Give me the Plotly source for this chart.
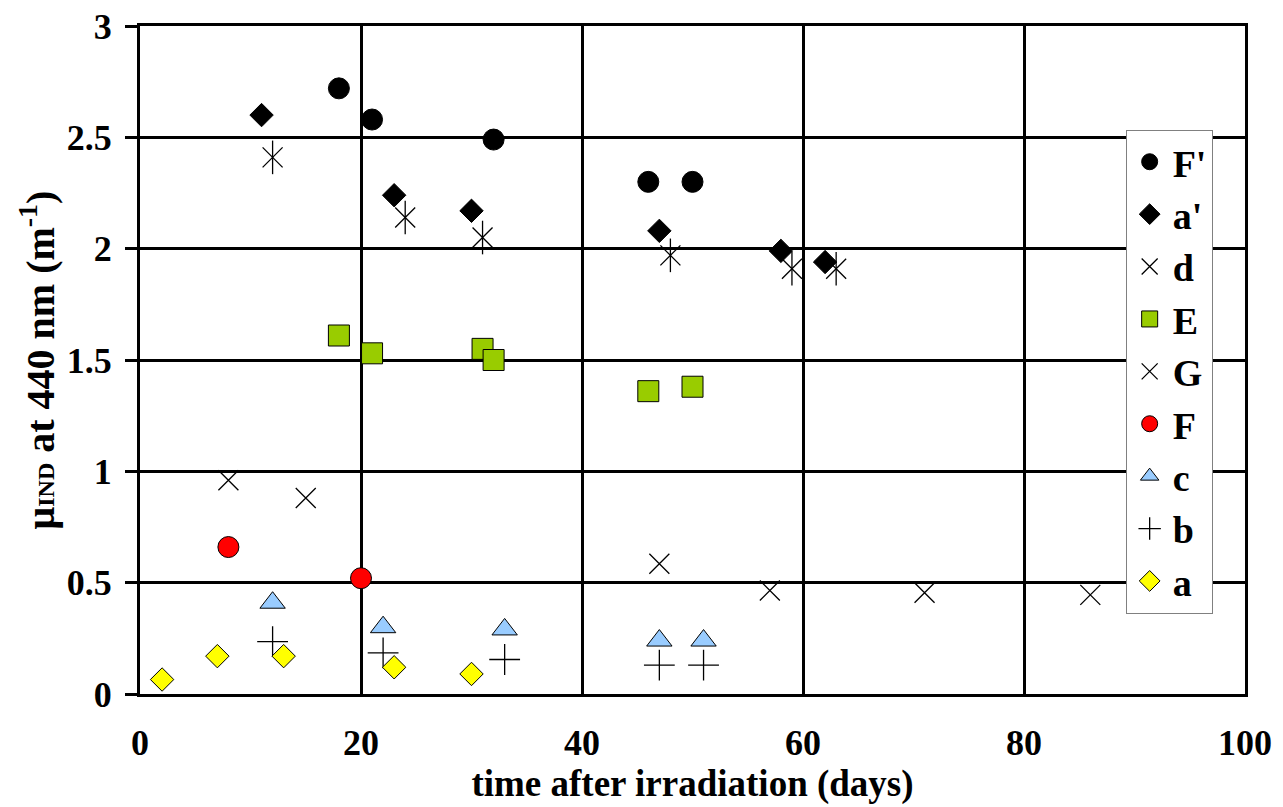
import plotly.graph_objects as go

# ---- data (days after irradiation, mu_IND at 440 nm) ----
Fp_x = [18, 21, 32, 46, 50]
Fp_y = [2.72, 2.58, 2.49, 2.30, 2.30]
ap_x = [11, 23, 30, 47, 58, 62]
ap_y = [2.60, 2.24, 2.17, 2.08, 1.99, 1.94]
d_x = [12, 24, 31, 48, 59, 63]
d_y = [2.41, 2.14, 2.05, 1.97, 1.91, 1.91]
E_x = [18, 21, 31, 32, 46, 50]
E_y = [1.61, 1.53, 1.55, 1.50, 1.36, 1.38]
G_x = [8, 15, 47, 57, 71, 86]
G_y = [0.96, 0.88, 0.585, 0.465, 0.455, 0.445]
F_x = [8, 20]
F_y = [0.66, 0.52]
c_x = [12, 22, 33, 47, 51]
c_y = [0.41, 0.30, 0.29, 0.24, 0.24]
b_x = [12, 22, 33, 47, 51]
b_y = [0.235, 0.185, 0.155, 0.13, 0.13]
a_x = [2, 7, 13, 23, 30]
a_y = [0.065, 0.17, 0.17, 0.12, 0.09]

series = [
    ("F'", Fp_x, Fp_y, dict(symbol="circle", size=21, color="black", line=dict(color="black", width=1))),
    ("a'", ap_x, ap_y, dict(symbol="diamond", size=18, color="black", line=dict(color="black", width=1))),
    ("d", d_x, d_y, dict(symbol="x-thin-open", size=20, color="black", line=dict(color="black", width=1.3))),
    ("E", E_x, E_y, dict(symbol="square", size=21, color="#99CC00", line=dict(color="black", width=1))),
    ("G", G_x, G_y, dict(symbol="x-thin-open", size=20, color="black", line=dict(color="black", width=1.3))),
    ("F", F_x, F_y, dict(symbol="circle", size=21, color="#FF0000", line=dict(color="black", width=1))),
    ("c", c_x, c_y, dict(symbol="triangle-up", size=22, color="#99CCFF", line=dict(color="black", width=1))),
    ("b", b_x, b_y, dict(symbol="cross-thin-open", size=22, color="black", line=dict(color="black", width=1.3))),
    ("a", a_x, a_y, dict(symbol="diamond", size=18, color="#FFFF00", line=dict(color="black", width=1))),
]

FONT = "Liberation Serif"

fig = go.Figure()
for name, xs, ys, mk in series:
    fig.add_trace(go.Scatter(x=xs, y=ys, mode="markers", name=name, marker=mk, legendgroup=name))
    if name == "d":
        # vertical stroke completing the 6-armed asterisk of series d
        fig.add_trace(go.Scatter(
            x=xs, y=ys, mode="markers", name=name, legendgroup=name, showlegend=False,
            marker=dict(symbol="line-ns-open", size=24, color="black",
                        line=dict(color="black", width=1.3))))

fig.update_layout(
    width=1283, height=807,
    margin=dict(l=140, r=38, t=26, b=113),
    paper_bgcolor="white", plot_bgcolor="white",
    font=dict(family=FONT, size=36, color="black", weight="bold"),
    showlegend=True,
    legend=dict(
        x=0.892, y=0.845, xanchor="left", yanchor="top",
        bgcolor="white", bordercolor="#808080", borderwidth=1,
        font=dict(family=FONT, size=38, color="black", weight="bold"),
        itemwidth=36, tracegroupgap=0,
    ),
    xaxis=dict(
        range=[0, 100], dtick=20, tick0=0, automargin=False,
        showgrid=True, gridcolor="black", gridwidth=3,
        showline=True, linecolor="black", linewidth=3, mirror=True,
        zeroline=False, ticks="", ticklabelstandoff=15,
        tickfont=dict(family=FONT, size=36, weight="bold"),
        title=dict(text="time after irradiation (days)", standoff=6,
                   font=dict(family=FONT, size=37, weight="bold")),
    ),
    yaxis=dict(
        range=[0, 3], dtick=0.5, tick0=0, automargin=False,
        showgrid=True, gridcolor="black", gridwidth=3,
        showline=True, linecolor="black", linewidth=3, mirror=True,
        zeroline=False, ticks="outside", ticklen=12, tickwidth=3, tickcolor="black",
        ticklabelstandoff=6,
        tickfont=dict(family=FONT, size=36, weight="bold"),
        title=dict(text="μ<span style='font-size:24px'>IND</span> at 440 nm (m<sup>-1</sup>)",
                   standoff=0, font=dict(family=FONT, size=40, weight="bold")),
    ),
)

fig.write_html("out.html")
